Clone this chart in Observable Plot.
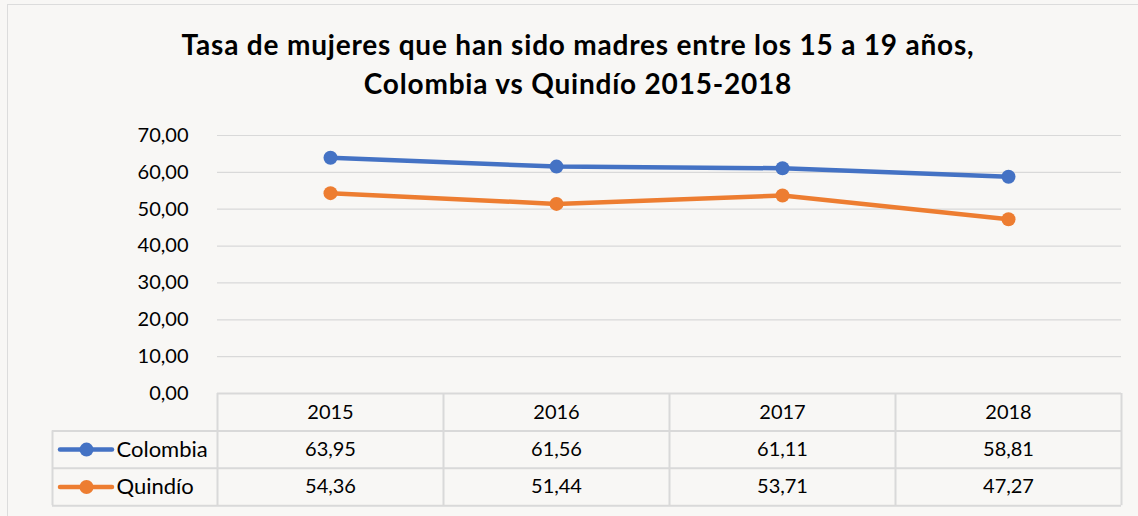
<!DOCTYPE html>
<html><head><meta charset="utf-8">
<script src="https://cdn.jsdelivr.net/npm/d3@7"></script>
<script src="https://cdn.jsdelivr.net/npm/@observablehq/plot@0.6"></script>
<style>
html,body{margin:0;padding:0;background:#f8f7f5;}
#wrap{position:relative;width:1138px;height:516px;overflow:hidden;background:#f8f7f5;font-family:Lato,"Open Sans",sans-serif;}
#frame{position:absolute;left:7px;top:4px;right:-2px;bottom:-2px;border-left:1.5px solid #dcdcdc;border-top:1.5px solid #dcdcdc;}
#title{position:absolute;left:18px;width:1120px;top:25px;text-align:center;font-weight:bold;font-size:28px;letter-spacing:0.8px;line-height:39px;color:#000;}
#chart{position:absolute;left:0;top:0;}
</style></head>
<body><div id="wrap"><div id="frame"></div><div id="title">Tasa de mujeres que han sido madres entre los 15 a 19 años,<br>Colombia vs Quindío 2015-2018</div><div id="chart"></div></div>
<script>
const years = [2015, 2016, 2017, 2018];
const colombia = [63.95, 61.56, 61.11, 58.81];
const quindio = [54.36, 51.44, 53.71, 47.27];
const seriesNames = ["Colombia", "Quindío"];
const seriesColors = ["#4472C4", "#ED7D31"];
const yTicks = [0, 10, 20, 30, 40, 50, 60, 70];

const fmt = v => d3.format(".2f")(v).replace(".", ",");
const W = 1138, H = 516, mL = 217, mR = 17, mT = 135, mB = 123;
const colW = (W - mL - mR) / years.length;
const pxPerY = (H - mT - mB) / 70;
const xOf = px => (years[0] - 0.5) + (px - mL) / colW;   // layout helper
const yOf = px => (H - mB - px) / pxPerY;                // layout helper

const rows = [];
years.forEach((yr, i) => {
  rows.push({year: yr, value: colombia[i], series: seriesNames[0]});
  rows.push({year: yr, value: quindio[i], series: seriesNames[1]});
});
const edges = d3.range(years.length + 1).map(i => years[0] - 0.5 + i);
const legendLeft = xOf(52);
const rowH = 37.4;
const tableColor = "#d9d9d9";
const fs = "20px";

const legendRows = seriesNames.map((s, i) => ({series: s, color: seriesColors[i], dy: rowH * (i + 1.5)}));

const marks = [
  Plot.gridY(yTicks, {stroke: "#d9d9d9", strokeOpacity: 1, strokeWidth: 1.2}),
  Plot.axisY(yTicks, {tickSize: 0, tickPadding: 29, tickFormat: fmt, fontSize: fs, fill: "#000", textAnchor: "end", label: null}),
  // table horizontal lines
  Plot.ruleY([0], {x1: edges[0], x2: edges[edges.length - 1], stroke: tableColor, strokeWidth: 2}),
  ...[1, 2, 3].map(k => Plot.ruleY([yOf(H - mB + rowH * k)], {x1: legendLeft, x2: edges[edges.length - 1], stroke: tableColor, strokeWidth: 2})),
  // table vertical lines
  Plot.ruleX(edges, {y1: 0, y2: yOf(H - mB + rowH * 3), stroke: tableColor, strokeWidth: 2}),
  Plot.ruleX([legendLeft], {y1: yOf(H - mB + rowH), y2: yOf(H - mB + rowH * 3), stroke: tableColor, strokeWidth: 2}),
  // year header
  Plot.text(years, {x: d => d, y: 0, dy: rowH * 0.5, text: d => String(d), fontSize: fs, fill: "#000"}),
  // values
  Plot.text(rows, {x: "year", y: 0, text: d => fmt(d.value), fontSize: fs, fill: "#000",
    filter: d => d.series === seriesNames[0], dy: rowH * 1.5}),
  Plot.text(rows, {x: "year", y: 0, text: d => fmt(d.value), fontSize: fs, fill: "#000",
    filter: d => d.series === seriesNames[1], dy: rowH * 2.5}),
  // legend swatches
  ...legendRows.map(l => Plot.ruleY([0], {x1: xOf(60), x2: xOf(112), dy: l.dy, stroke: l.color, strokeWidth: 4.5, strokeLinecap: "round"})),
  ...legendRows.map(l => Plot.dot([0], {x: xOf(86), y: 0, dy: l.dy, r: 7, fill: l.color, stroke: "none"})),
  ...legendRows.map(l => Plot.text([l.series], {x: xOf(116), y: 0, dy: l.dy, text: d => d, textAnchor: "start", fontSize: "22px", fill: "#000"})),
  // series
  Plot.line(rows, {x: "year", y: "value", z: "series", stroke: "series", strokeWidth: 4.5, strokeLinecap: "round"}),
  Plot.dot(rows, {x: "year", y: "value", fill: "series", r: 7, stroke: "none"})
];

const plot = Plot.plot({
  width: W, height: H,
  marginLeft: mL, marginRight: mR, marginTop: mT, marginBottom: mB,
  style: {background: "transparent", fontFamily: "Lato, 'Open Sans', sans-serif", overflow: "visible"},
  clip: false,
  x: {domain: [edges[0], edges[edges.length - 1]], axis: null},
  y: {domain: [0, 70], axis: null, label: null},
  color: {domain: seriesNames, range: seriesColors},
  marks
});
document.getElementById("chart").appendChild(plot);
</script></body></html>
